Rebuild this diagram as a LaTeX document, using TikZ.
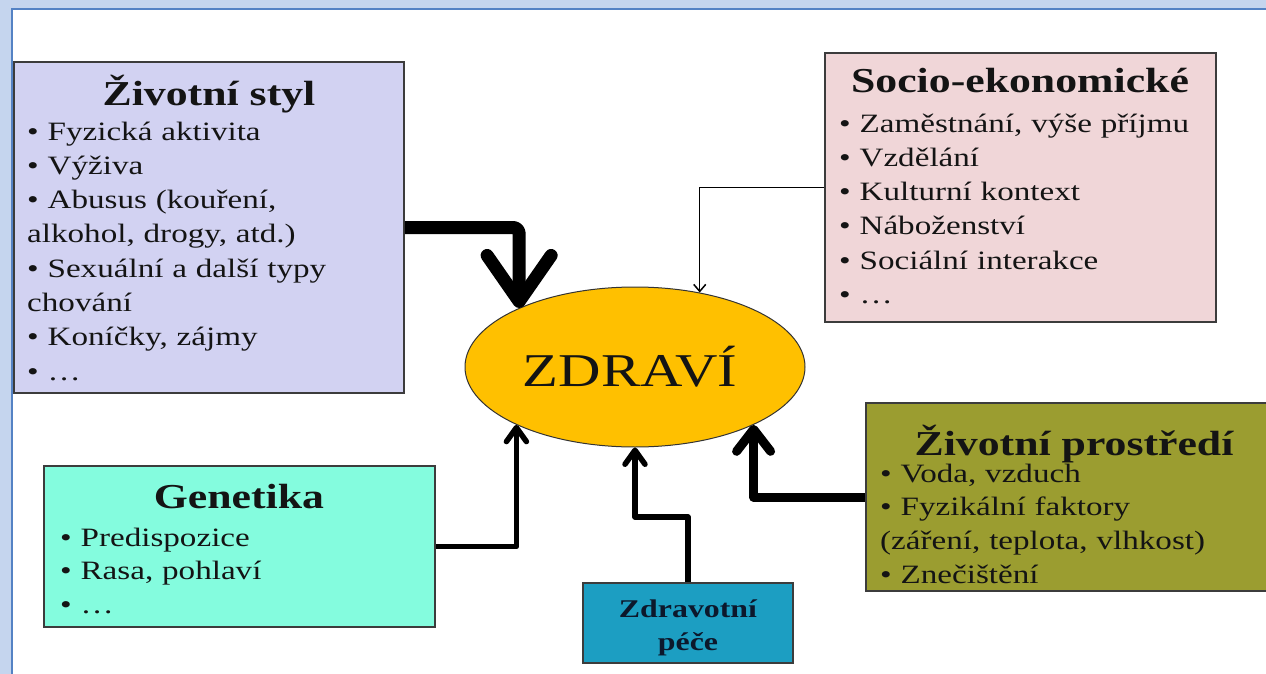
\documentclass[tikz,border=0pt]{standalone}
\usepackage{fontspec}
\setmainfont[FakeStretch=1.25]{Liberation Serif}
\usetikzlibrary{arrows.meta,shapes.geometric}

\definecolor{framebg}{RGB}{197,213,238}
\definecolor{frameline}{RGB}{84,130,196}
\definecolor{stylfill}{RGB}{210,210,242}
\definecolor{sociofill}{RGB}{240,214,216}
\definecolor{envfill}{RGB}{155,157,48}
\definecolor{genfill}{RGB}{132,252,222}
\definecolor{carefill}{RGB}{28,158,194}
\definecolor{healthfill}{RGB}{255,192,0}
\definecolor{boxline}{RGB}{60,60,60}
\definecolor{ink}{RGB}{20,20,20}
\definecolor{careink}{RGB}{12,24,44}

\tikzset{
  factor/.style={rectangle, draw=boxline, line width=1.8pt, inner sep=0pt},
  heading/.style={font=\fontsize{35}{40}\selectfont\bfseries, text=ink, anchor=base, inner sep=0pt},
  items/.style={font=\fontsize{26.5}{34.3}\selectfont, text=ink, align=left,
                anchor=base west, inner sep=0pt, text width=380pt},
  link/.style={draw=black, line cap=butt, line join=round},
}

\begin{document}
\begin{tikzpicture}[x=1pt, y=-1pt]
  \useasboundingbox (0,0) rectangle (1266,674);

  % slide frame
  \fill[framebg] (0,0) rectangle (1266,674);
  \fill[white] (12,9) rectangle (1266,674);
  \draw[frameline, line width=2pt] (12,674) -- (12,9) -- (1266,9);

  % central ellipse
  \node[ellipse, draw=black!80, line width=1pt, fill=healthfill,
        minimum width=340pt, minimum height=160pt, inner sep=0pt]
        (zdravi) at (635,367) {};
  \node[font=\fontsize{47}{50}\selectfont, text=ink, anchor=base, inner sep=0pt]
        (zdravitext) at (630,386) {ZDRAVÍ};

  % Životní styl
  \node[factor, fill=stylfill, minimum width=390pt, minimum height=331pt]
        (styl) at (209,227.5) {};
  \node[heading] (stylhead) at (209,106) {Životní styl};
  \node[items] (stylitems) at (27,140) {%
    • Fyzická aktivita\\
    • Výživa\\
    • Abusus (kouření,\\
    alkohol, drogy, atd.)\\
    • Sexuální a další typy\\
    chování\\
    • Koníčky, zájmy\\
    • …};

  % Socio-ekonomické
  \node[factor, fill=sociofill, minimum width=391pt, minimum height=269pt]
        (socio) at (1020.5,187.5) {};
  \node[heading] (sociohead) at (1020,93) {Socio-ekonomické};
  \node[items] (socioitems) at (839,132) {%
    • Zaměstnání, výše příjmu\\
    • Vzdělání\\
    • Kulturní kontext\\
    • Náboženství\\
    • Sociální interakce\\
    • …};

  % Životní prostředí
  \node[factor, fill=envfill, minimum width=420pt, minimum height=188pt]
        (prostredi) at (1076,497) {};
  \node[heading] (prostredihead) at (1074,455) {Životní prostředí};
  \node[items, font=\fontsize{26.5}{33.7}\selectfont] (prostrediitems) at (880,482) {%
    • Voda, vzduch\\
    • Fyzikální faktory\\
    (záření, teplota, vlhkost)\\
    • Znečištění};

  % Genetika
  \node[factor, fill=genfill, minimum width=391pt, minimum height=161pt]
        (genetika) at (239.5,546.5) {};
  \node[heading] (genetikahead) at (239,508) {Genetika};
  \node[items, font=\fontsize{26.5}{33.5}\selectfont] (genetikaitems) at (60,546) {%
    • Predispozice\\
    • Rasa, pohlaví\\
    • …};

  % Zdravotní péče
  \node[factor, fill=carefill, minimum width=210pt, minimum height=80pt]
        (pece) at (688,623) {};
  \node[font=\fontsize{25.5}{33}\selectfont\bfseries, text=careink, align=center,
        anchor=base, inner sep=0pt, text width=200pt] (pecetext) at (688,617)
        {Zdravotní\\péče};

  % connectors
  \path[link, line width=13pt, rounded corners=6pt,
        -{Straight Barb[length=46pt, width=64pt, round]}]
        (styl.east) -| (zdravi.153.6);
  \path[link, line width=1.5pt,
        -{Straight Barb[length=7pt, width=12pt]}]
        (socio.west) -| (zdravi.49.7);
  \path[link, line width=5.5pt,
        -{Straight Barb[length=14pt, width=20pt, round]}]
        (genetika.east) -| (zdravi.206.4);
  \path[link, line width=9pt,
        -{Straight Barb[length=22pt, width=34pt, round]}]
        (prostredi.west) -| (zdravi.334.7);
  \coordinate (pecebend) at (660,517);
  \path[link, line width=5.5pt,
        -{Straight Barb[length=14pt, width=20pt, round]}]
        (pece.north) |- (pecebend) -| (zdravi.south);
\end{tikzpicture}
\end{document}
